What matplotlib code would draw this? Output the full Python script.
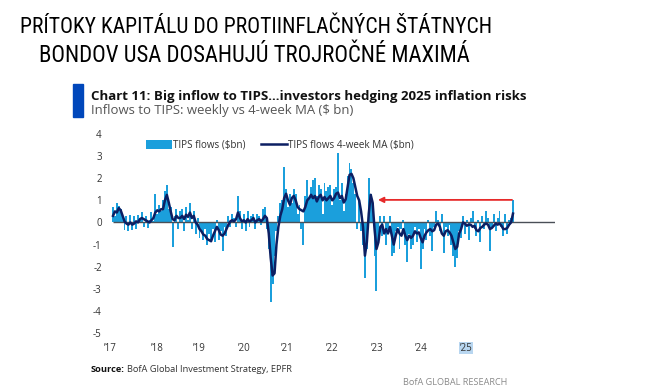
"""TIPS inflows: weekly flows vs 4-week MA (BofA chart 11 recreation)."""
import numpy as np
import matplotlib
matplotlib.use("Agg")
import matplotlib.pyplot as plt
from matplotlib import font_manager
from matplotlib.patches import Patch
from matplotlib.lines import Line2D

flows_2017 = [0.7, 0.3, 0.9, 0.75, 0.6, 0.2, -0.35, 0.3, -0.4, 0.35, -0.35, 0.3, -0.3,
              0.35, 0.1, 0.45, -0.2, 0.3, -0.25, 0.1, 0.45, 0.05, 1.3, 0.4, 0.8, 0.5]
flows_2018 = [1.0, 1.4, 1.7, 0.6, 0.7, -1.1, 0.3, 0.6, -0.3, 0.5, 0.6, -0.4, 0.7,
              0.1, 0.9, -0.3, 0.5, -0.5, 0.2, -0.7, -0.4, -0.8, -0.3, -1.0, -0.5, -0.9]
flows_2019 = [-0.3, -0.9, 0.1, -0.8, -0.4, -1.3, -0.2, -0.6, 0.3, -0.2, 0.4, 0.2, -0.2,
              1.2, 0.5, -0.3, 0.4, -0.4, 0.5, -0.2, 0.3, 0.4, -0.3, 0.4, 0.3, -0.1]
flows_2020 = [0.6, 0.7, -0.3, -1.2, -3.6, -2.8, -1.5, -0.4, 0.3, 0.9, 1.0, 2.5, 1.5,
              0.7, 1.3, 0.9, 1.5, 1.3, 0.4, 0.8, -0.3, -1.0, 1.2, 1.9, 1.1, 1.6]
flows_2021 = [1.9, 2.0, 1.2, 1.7, 1.5, 0.4, 1.8, 1.4, 1.6, 1.7, 0.8, 1.5, 1.6,
              3.15, 1.0, 1.8, 0.5, 1.3, 2.1, 2.7, 2.4, 1.8, 1.3, -0.3, 1.0, -0.4]
flows_2022 = [-1.0, -2.5, -1.2, 2.0, 1.3, 0.9, -1.5, -3.1, -0.9, 0.3, -0.6, 0.3, -1.0,
              -0.3, 0.3, -1.5, -1.4, -0.4, -0.2, -1.2, -0.3, 0.1, -1.0, -1.8, -0.5, -1.2]
flows_2023 = [-1.0, -0.2, -0.9, -0.3, -2.1, -1.2, -0.3, -0.8, 0.1, -0.6, -1.3, -0.2, 0.5,
              0.1, -0.4, 0.4, -1.4, -0.2, -0.6, -0.1, -1.0, -1.5, -2.0, -1.6, -0.4, -0.7]
flows_2024 = [0.3, -0.5, 0.1, -0.8, 0.2, 0.5, -0.3, -0.6, 0.1, -0.9, 0.3, -0.3, 0.5,
              0.2, -1.3, -0.2, 0.4, -0.4, 0.2, 0.5, -0.2, -0.6, 0.4, -0.5, 0.1, 0.2]
flows_2025 = [1.0]

ma_2017 = [0.3, 0.5, 0.45, 0.65, 0.55, 0.3, 0.05, -0.05, -0.1, 0.0, -0.1, -0.05, 0.05,
           0.0, 0.15, 0.2, 0.15, 0.1, 0.05, 0.0, 0.1, 0.2, 0.45, 0.55, 0.5, 0.6]
ma_2018 = [0.6, 1.0, 1.25, 0.9, 0.5, 0.15, 0.1, 0.3, 0.2, 0.2, 0.3, 0.15, 0.35,
           0.25, 0.45, 0.2, 0.3, 0.0, -0.1, -0.3, -0.4, -0.55, -0.6, -0.75, -0.8, -0.85]
ma_2019 = [-0.6, -0.4, -0.2, -0.35, -0.55, -0.6, -0.5, -0.3, -0.1, 0.05, 0.1, 0.05, 0.15,
           0.45, 0.2, 0.05, 0.1, 0.0, 0.15, 0.05, 0.1, 0.2, 0.0, 0.1, 0.15, 0.05]
ma_2020 = [0.15, 0.3, 0.2, -0.5, -1.6, -2.4, -2.3, -1.0, -0.2, 0.3, 0.6, 1.1, 1.3,
           1.0, 0.8, 1.1, 1.2, 1.0, 0.7, 0.6, 0.55, 0.5, 0.7, 1.0, 1.1, 1.25]
ma_2021 = [1.1, 1.2, 0.95, 1.15, 1.25, 1.0, 1.15, 1.0, 1.1, 1.2, 1.0, 1.1, 1.3,
           1.35, 1.1, 1.2, 0.9, 1.05, 1.6, 2.15, 2.2, 2.0, 1.6, 1.2, 1.0, 0.5]
ma_2022 = [-0.2, -1.5, -0.9, 0.4, 1.25, 0.9, -0.3, -1.2, -0.9, -0.2, -0.1, -0.5, -0.3,
           -0.5, -0.2, -0.6, -1.0, -0.6, -0.3, -0.5, -0.6, -0.3, -0.6, -0.8, -0.6, -0.7]
ma_2023 = [-0.6, -0.4, -0.5, -0.45, -0.7, -0.9, -0.6, -0.45, -0.35, -0.3, -0.4, -0.35, -0.1,
           -0.05, -0.2, -0.5, -0.6, -0.4, -0.35, -0.45, -0.6, -0.9, -1.2, -1.1, -0.5, -0.3]
ma_2024 = [0.0, -0.05, -0.15, -0.1, -0.1, -0.2, -0.15, -0.35, -0.4, -0.25, -0.2, -0.1, -0.05,
           -0.1, -0.3, -0.25, -0.15, -0.05, -0.1, -0.05, -0.15, -0.3, -0.3, -0.25, -0.1, 0.0]
ma_2025 = [0.4]

tick_labels = ["\u201917", "\u201918", "\u201919", "\u201920", "\u201921",
               "\u201922", "\u201923", "\u201924", "\u201925"]
y_ticks = [4, 3, 2, 1, 0, -1, -2, -3, -4, -5]

flows = (flows_2017 + flows_2018 + flows_2019 + flows_2020 + flows_2021
         + flows_2022 + flows_2023 + flows_2024 + flows_2025)
ma = (ma_2017 + ma_2018 + ma_2019 + ma_2020 + ma_2021
      + ma_2022 + ma_2023 + ma_2024 + ma_2025)
PER_YEAR = 26
x = 2017 + np.arange(len(flows)) / PER_YEAR

LIGHT = "#1b9fdc"
NAVY = "#0c1f63"
RED = "#e62a2a"
W, H = 661, 388

# narrowest installed face for the Calibri-like header
installed = {f.name for f in font_manager.fontManager.ttflist}
title_face = next((n for n in ("Liberation Sans Narrow", "Roboto Condensed",
                               "Open Sans Condensed", "Noto Sans Condensed",
                               "Lato", "Roboto") if n in installed), "DejaVu Sans")

fig = plt.figure(figsize=(W / 100, H / 100), dpi=100)
ax = fig.add_axes([106 / W, (H - 333) / H, 449 / W, 199 / H])

ax.bar(x, flows, width=1 / PER_YEAR, color=LIGHT, linewidth=0, align="center")
ax.plot(x, ma, color=NAVY, lw=1.8, solid_joinstyle="round")
ax.hlines(0, x[0], 2025.84, color="#4a4f57", lw=1.0, zorder=1.5)

# red arrow from the latest week back to the early-2022 level
ax.annotate("", xy=(2022.3, flows[-1] + 0.02), xytext=(x[-1] - 0.02, flows[-1] + 0.02),
            arrowprops=dict(arrowstyle="-|>", color=RED, lw=1.3, mutation_scale=8,
                            shrinkA=0, shrinkB=0))

ax.set_xlim(2016.86, 2025.84)
ax.set_ylim(-5, 4)
ax.set_yticks(y_ticks)
ax.set_yticklabels([str(v) for v in y_ticks])
# the source chart's year labels sit on their own, squeezed spacing
ax.set_xticks([2016.94, 2017.88, 2018.72, 2019.62, 2020.48, 2021.38, 2022.28, 2023.16, 2024.06])
ax.set_xticklabels(tick_labels)
for s in ax.spines.values():
    s.set_visible(False)
ax.tick_params(length=0, labelsize=7, colors="#333333")
ax.tick_params(axis="y", pad=3)
ax.tick_params(axis="x", pad=7)
for lab in ax.get_yticklabels() + ax.get_xticklabels():
    lab.set_fontfamily("Open Sans")
last = ax.get_xticklabels()[-1]
last.set_bbox(dict(facecolor="#b8d6f0", edgecolor="none", pad=0.5))

handles = [Patch(facecolor=LIGHT, edgecolor="none"),
           Line2D([], [], color=NAVY, lw=1.8)]
ax.legend(handles, ["TIPS flows ($bn)", "TIPS flows 4-week MA ($bn)"],
          loc="upper left", bbox_to_anchor=(141 / W, (H - 135) / H),
          bbox_transform=fig.transFigure, ncol=2, frameon=False,
          handlelength=2.6, handleheight=0.9, handletextpad=0.15, columnspacing=1.6,
          borderpad=0, prop={"family": "Open Sans", "size": 7.1}, labelcolor="#333333")

# header
t1 = fig.text(256 / W, 1 - 33 / H, "PRÍTOKY KAPITÁLU DO PROTIINFLAČNÝCH ŠTÁTNYCH",
              ha="center", va="baseline", fontsize=21, family=[title_face, "DejaVu Sans"],
              color="black")
t2 = fig.text(254 / W, 1 - 62 / H, "BONDOV USA DOSAHUJÚ TROJROČNÉ MAXIMÁ",
              ha="center", va="baseline", fontsize=21, family=[title_face, "DejaVu Sans"],
              color="black")

fig.patches.append(plt.Rectangle((73 / W, 1 - 117 / H), 10 / W, 33 / H,
                                 transform=fig.transFigure, color="#0047bb"))
c1 = fig.text(91 / W, 1 - 100 / H,
              "Chart 11: Big inflow to TIPS...investors hedging 2025 inflation risks",
              fontsize=9.5, fontweight="bold", family="Open Sans", color="#111111")
c2 = fig.text(91 / W, 1 - 114 / H, "Inflows to TIPS: weekly vs 4-week MA ($ bn)",
              fontsize=9.3, family="Open Sans", color="#555555")

src = fig.text(91 / W, 1 - 372 / H, "Source:", fontsize=6.7, fontweight="bold",
               family="Open Sans", color="#111111")
fig.canvas.draw()
bb = src.get_window_extent()
fig.text(bb.x1 / W + 2 / W, 1 - 372 / H, "BofA Global Investment Strategy, EPFR",
         fontsize=6.7, family="Open Sans", color="#333333")
fig.text(403 / W, 1 - 385 / H, "BofA GLOBAL RESEARCH", fontsize=6.6,
         family="Open Sans", color="#8a8a8a")

# fit header lines to the width they take in the picture
for t, width in ((t1, 472), (t2, 432), (c1, 439), (c2, 264)):
    w = t.get_window_extent().width
    t.set_fontsize(t.get_fontsize() * width / w)

fig.savefig("out.png", dpi=100)
